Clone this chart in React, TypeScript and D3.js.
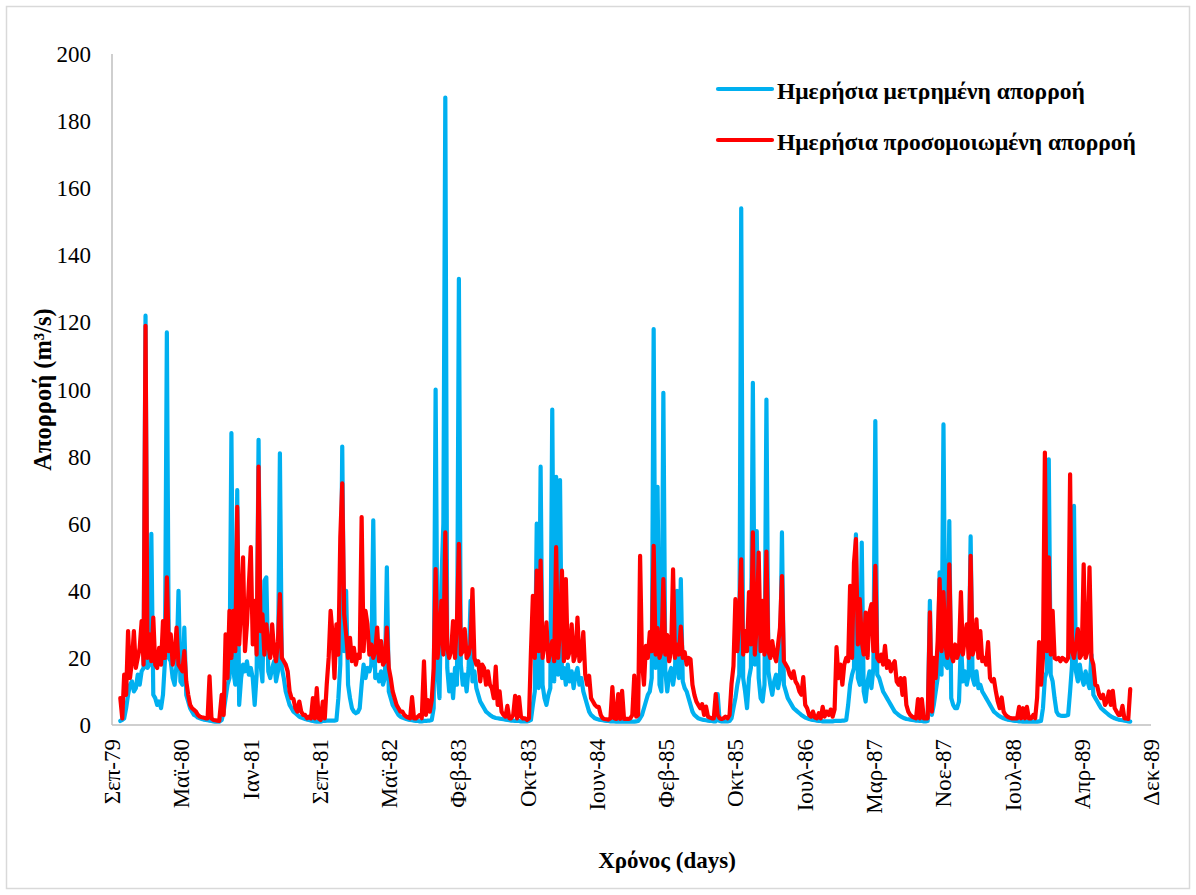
import * as d3 from "d3";

// axis + labels
const greekMonths = ["Ιαν", "Φεβ", "Μαρ", "Απρ", "Μαϊ", "Ιουν", "Ιουλ", "Αυγ", "Σεπ", "Οκτ", "Νοε", "Δεκ"];
const yTicks = [0, 20, 40, 60, 80, 100, 120, 140, 160, 180, 200];
const axisStart = Date.UTC(1979, 8, 1);
const tickStepDays = 250;
const tickCount = 16;

// water years, weekly values starting 1 Oct of each year
const waterYears = [1979, 1980, 1981, 1982, 1983, 1984, 1985, 1986, 1987, 1988];

const measured1979 = [1.2, 1.5, 2, 5, 9, 12, 13, 10, 11, 15, 12, 16, 17, 122, 17, 18, 57, 9, 8, 6, 7, 5, 9, 19, 117, 20, 19, 14, 12, 18, 40, 13, 12, 29, 9, 7, 5, 4, 3, 2.7, 2.2, 2, 1.8, 1.6, 1.5, 1.4, 1.3, 1.2, 1.1, 1, 1, 1];
const measured1980 = [1.5, 4, 8, 12, 14, 87, 16, 12, 70, 6, 14, 18, 16, 19, 15, 17, 14, 6, 15, 85, 18, 13, 43, 44, 16, 14, 17, 19, 13, 16, 81, 17, 14, 10, 8, 6, 5, 4, 3.5, 3, 2.5, 2.2, 2, 1.8, 1.6, 1.5, 1.3, 1.2, 1.1, 1, 1, 1];
const measured1981 = [1.2, 1.2, 1.3, 1.3, 1.3, 1.3, 1.3, 1.4, 8, 18, 83, 22, 40, 12, 8, 5, 4, 3.5, 3.8, 5, 12, 18, 14, 17, 16, 18, 61, 14, 15, 13, 16, 12, 14, 47, 10, 8, 6, 5, 4, 3, 2.5, 2.2, 2, 1.8, 1.6, 1.5, 1.4, 1.3, 1.2, 1.2, 1.1, 1.1];
const measured1982 = [1.2, 1.2, 1.3, 1.3, 1.5, 5, 100, 15, 8, 43, 60, 187, 17, 10, 15, 8, 17, 12, 133, 18, 12, 15, 10, 17, 37, 13, 16, 11, 9, 7, 6, 5, 4, 3.5, 3, 2.6, 2.3, 2.1, 2, 1.9, 1.8, 1.7, 1.6, 1.5, 1.4, 1.3, 1.3, 1.2, 1.2, 1.2, 1.1, 1.1];
const measured1983 = [1.1, 1.1, 1.2, 1.5, 6, 10, 60, 11, 77, 12, 8, 6, 9, 11, 94, 13, 74, 15, 73, 14, 17, 12, 18, 13, 16, 11, 15, 17, 12, 14, 10, 8, 6, 4, 3, 2.5, 2, 1.8, 1.6, 1.5, 1.4, 1.3, 1.2, 1.2, 1.1, 1.1, 1.1, 1, 1, 1, 1, 1];
const measured1984 = [1, 1, 1, 1, 1, 1.1, 1.2, 2, 3, 5, 7, 9, 10, 14, 118, 17, 71, 12, 10, 99, 16, 10, 15, 17, 12, 16, 40, 14, 43.5, 13, 11, 10, 8, 6, 4, 3, 2.5, 2, 1.8, 1.6, 1.5, 1.4, 1.3, 1.2, 1.2, 1.1, 1.1, 9.2, 1.2, 1.1, 1.1, 1.1];
const measured1985 = [1.1, 1.2, 2, 5, 8, 12, 15, 154, 14, 10, 5, 14, 17, 102, 18, 57.8, 14, 8, 7, 12, 97, 16, 12, 9, 13, 15, 11, 14, 57.4, 12, 10, 8, 7, 6, 5, 4.5, 4, 3.5, 3, 2.6, 2.2, 2, 1.8, 1.6, 1.5, 1.4, 1.3, 1.2, 1.2, 1.1, 1.1, 1.1];
const measured1986 = [1.1, 1.1, 1.1, 1.2, 1.2, 1.2, 1.2, 1.3, 1.3, 1.5, 6, 12, 15, 17, 56.8, 14, 12, 54.4, 10, 7, 13, 16, 11, 17, 90.6, 15, 14, 12, 10, 9, 8, 7, 6, 5, 4, 3.5, 3, 2.6, 2.3, 2, 1.8, 1.7, 1.6, 1.5, 1.4, 1.3, 1.3, 1.2, 1.2, 1.1, 1.1, 1.2];
const measured1987 = [37, 3, 6, 10, 14, 45.5, 15, 89.6, 18, 17, 60.8, 8, 6, 5, 5, 7, 25, 13, 16, 12, 15, 56.2, 14, 12, 16, 11, 12, 10, 9, 8, 7, 6, 5, 4, 3.5, 3, 2.6, 2.3, 2, 1.8, 1.6, 1.5, 1.4, 1.3, 1.2, 1.2, 1.1, 1.1, 1, 1, 1, 1];
const measured1988 = [1, 1, 1, 1, 1.1, 1.2, 5, 14, 16, 79.2, 15, 13, 8, 4, 3, 2.8, 2.7, 2.7, 2.8, 3, 10, 18, 65.3, 16, 13, 18, 14, 12, 16, 13, 11, 21, 9, 8, 7, 6, 5, 4.5, 4, 3.5, 3, 2.6, 2.3, 2, 1.8, 1.6, 1.5, 1.4, 1.3, 1.2, 1.1, 1];

const simulated1979 = [8, 2, 15, 9, 28, 14, 19, 28, 17, 20, 23, 31, 18, 119, 20, 27, 19, 32, 18, 17, 23, 18, 31, 20, 44, 22, 27, 18, 21, 29, 18, 17, 16, 22, 13, 9, 6, 5, 4.5, 4, 3, 2.5, 2.3, 2.2, 2, 2, 14.5, 2, 1.5, 1.4, 1.3, 1.2];
const simulated1980 = [9, 3, 27, 14, 34, 20, 34, 22, 65, 24, 35, 50, 22, 30, 42, 53, 24, 37, 21, 77, 28, 33, 21, 30, 24, 20, 30, 22, 19, 25, 39, 20, 19, 18, 16, 10, 8, 7.7, 5, 4, 7, 4, 3, 3, 2, 2.5, 2, 8, 2, 11, 2, 1.5];
const simulated1981 = [7, 2, 12, 20, 34, 27, 14, 30, 21, 56, 72, 33, 27, 20, 26, 19, 23, 18, 21, 20, 62, 22, 34, 30, 21, 24, 20, 22, 29, 19, 25, 18, 19, 29, 17, 14, 10, 8, 6, 5, 4, 4, 3, 2.5, 2.2, 2, 8.3, 2, 2, 2.5, 3, 2];
const simulated1982 = [19, 3, 7.4, 4, 7.4, 16.8, 46.5, 20, 26, 37, 21, 57.4, 23, 20, 22, 31, 20, 31, 54, 21, 22, 28.6, 20, 21, 24, 40.5, 20, 18, 19, 13, 18, 17, 12, 16, 12, 11, 8, 17.4, 6, 10, 4, 3, 2.5, 5.7, 2, 2, 3, 8.7, 2, 8.3, 2.5, 2];
const simulated1983 = [2, 1.5, 2, 21.7, 38.5, 20, 46, 22, 49, 20, 24, 30.6, 19, 22, 25, 19, 53, 20, 29, 46, 19, 43.5, 20, 22, 30, 19, 21, 32, 19, 20, 27.7, 15, 12, 14.7, 8, 7, 6, 5.4, 5.4, 3, 2, 1.8, 1.7, 1.6, 2, 11.3, 2, 1.8, 9.2, 1.8, 10.2, 1.8];
const simulated1984 = [1.8, 1.8, 2, 3, 14.7, 2.5, 3, 50.4, 18.7, 12, 23.6, 20, 27.7, 22, 53.4, 21, 28.9, 20, 22, 43.5, 21, 26.8, 19, 22, 46.4, 20, 24, 21, 29.3, 20, 21.7, 18, 20, 19.6, 12, 9, 7, 6, 5, 6.2, 3, 5.5, 2.5, 2.2, 2, 2, 9.2, 3, 2, 1.8, 2, 2.5];
const simulated1985 = [2, 3, 12.2, 17.6, 37.5, 22, 33.6, 49.4, 21, 28, 22, 39.6, 24, 57.4, 21, 30, 51.4, 22, 37, 21, 51.7, 22, 20, 25, 21, 19, 24, 29, 44.4, 19, 18, 17, 15, 14, 16, 13, 12, 10, 9, 14.3, 6, 5, 3, 2.5, 4, 2.2, 2, 3.5, 2, 5.4, 2.5, 4];
const simulated1986 = [3, 4.6, 2.5, 4.6, 23.2, 14, 18, 12, 18, 20, 19, 41.5, 20, 48.4, 55.4, 24, 37.5, 25, 21, 33.5, 20, 33.5, 36, 22, 47.4, 20, 19, 21, 18, 23.6, 17, 19, 16, 18, 19, 13, 12, 14, 9, 14, 6, 4, 3, 2.5, 2.2, 2, 7.7, 2, 7.7, 2, 2, 2];
const simulated1987 = [33.6, 4, 20, 14, 25, 43.5, 22, 39.6, 24, 20, 47.9, 21, 19, 24, 20, 22, 39.6, 21, 26, 30, 20, 50.4, 21, 23, 31.5, 20, 28, 19, 20, 18, 24.7, 14, 13, 13.7, 10, 7, 5, 8.2, 4, 3, 2.5, 2.2, 2, 2, 2, 2, 5.4, 2, 5, 2, 5.4, 2];
const simulated1988 = [2, 3, 2, 8.2, 24.7, 12, 20, 81.2, 22, 50, 21, 34, 20, 19.6, 20, 19, 20, 19.6, 19, 20, 74.7, 22, 20, 24, 28.6, 20, 21, 47.9, 20, 22, 47, 20, 18, 12, 11.6, 9, 8, 9, 6, 7, 10, 6, 10.2, 5, 4, 3, 3, 5.7, 2, 2, 1.8, 10.7];

const measuredByYear = [measured1979, measured1980, measured1981, measured1982, measured1983, measured1984, measured1985, measured1986, measured1987, measured1988];
const simulatedByYear = [simulated1979, simulated1980, simulated1981, simulated1982, simulated1983, simulated1984, simulated1985, simulated1986, simulated1987, simulated1988];

type Pt = { date: Date; value: number };

function toPoints(byYear: number[][]): Pt[] {
  const out: Pt[] = [];
  byYear.forEach((vals, k) => {
    vals.forEach((v, i) => {
      out.push({ date: new Date(Date.UTC(waterYears[k], 9, 1 + 7 * i)), value: v });
    });
  });
  return out;
}

const W = 1196;
const H = 895;
const left = 112;
const right = 1151;
const top = 54;
const bottom = 725;
const font = "'Liberation Serif', 'Times New Roman', 'DejaVu Serif', serif";
const blue = "#00b0f0";
const red = "#ff0000";

export default function App() {
  const dayMs = 864e5;
  const x = d3
    .scaleUtc()
    .domain([new Date(axisStart), new Date(axisStart + (tickCount - 1) * tickStepDays * dayMs)])
    .range([left, right]);
  const y = d3.scaleLinear().domain([0, 200]).range([bottom, top]);

  const xTicks = d3.range(tickCount).map((i) => new Date(axisStart + i * tickStepDays * dayMs));
  const fmt = (d: Date) => `${greekMonths[d.getUTCMonth()]}-${String(d.getUTCFullYear()).slice(2)}`;

  const line = d3
    .line<Pt>()
    .x((d) => x(d.date))
    .y((d) => y(d.value));

  const measured = toPoints(measuredByYear);
  const simulated = toPoints(simulatedByYear);

  return (
    <svg
      width={W}
      height={H}
      style={{ position: "absolute", left: 0, top: 0, background: "#fff" }}
      fontFamily={font}
    >
      <rect x={6.5} y={6.5} width={1183} height={882} fill="#fff" stroke="#d9d9d9" strokeWidth={1.5} />

      {/* y axis */}
      <line x1={left} x2={left} y1={top} y2={bottom} stroke="#bfbfbf" strokeWidth={1.5} />
      {yTicks.map((t) => (
        <text key={t} x={91} y={y(t)} dy="0.35em" textAnchor="end" fontSize={23} fill="#000">
          {t}
        </text>
      ))}

      {/* data */}
      <path d={line(measured) || ""} fill="none" stroke={blue} strokeWidth={4.2} strokeLinejoin="round" strokeLinecap="round" />
      <path d={line(simulated) || ""} fill="none" stroke={red} strokeWidth={4.2} strokeLinejoin="round" strokeLinecap="round" />

      {/* x axis */}
      <line x1={left} x2={right} y1={bottom} y2={bottom} stroke="#bfbfbf" strokeWidth={1.5} />
      {xTicks.map((d, i) => (
        <text
          key={i}
          transform={`translate(${x(d)},${bottom + 14}) rotate(-90)`}
          dy="0.35em"
          textAnchor="end"
          fontSize={23}
          fill="#000"
        >
          {fmt(d)}
        </text>
      ))}

      {/* titles */}
      <text x={667} y={868} textAnchor="middle" fontSize={23} fontWeight="bold">
        Χρόνος (days)
      </text>
      <text transform={`translate(42,${(top + bottom) / 2}) rotate(-90)`} dy="0.35em" textAnchor="middle" fontSize={24.5} fontWeight="bold">
        Απορροή (m³/s)
      </text>

      {/* legend */}
      <line x1={718} x2={772} y1={89} y2={89} stroke={blue} strokeWidth={4.2} strokeLinecap="round" />
      <text x={777} y={99} fontSize={23.5} fontWeight="bold">
        Ημερήσια μετρημένη απορροή
      </text>
      <line x1={718} x2={772} y1={140} y2={140} stroke={red} strokeWidth={4.2} strokeLinecap="round" />
      <text x={777} y={150} fontSize={23.5} fontWeight="bold">
        Ημερήσια προσομοιωμένη απορροή
      </text>
    </svg>
  );
}
